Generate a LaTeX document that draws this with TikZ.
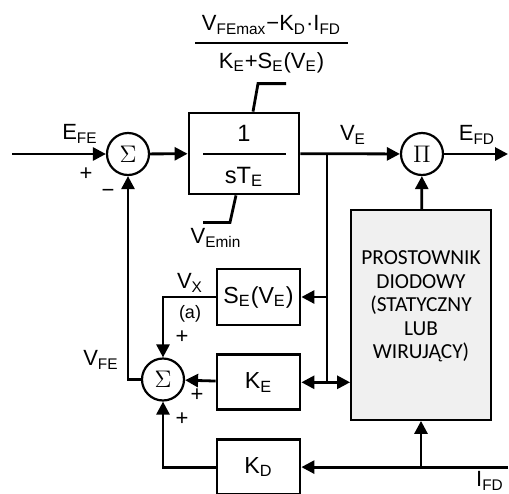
\documentclass[tikz,border=0pt]{standalone}
\usepackage{fontspec}
\setmainfont{Liberation Sans}
\newfontfamily\calfont{Carlito}
\usepackage{tikz}
\usetikzlibrary{arrows.meta,positioning}

\begin{document}
\begin{tikzpicture}[
  x=0.5pt, y=-0.5pt,
  node distance=13.5pt and 13.5pt,
  every node/.style={font=\fontsize{11}{13}\selectfont, inner sep=0pt},
  sumnode/.style={draw, circle, line width=1.1pt, minimum size=21pt,
                  font=\fontsize{12.5}{13}\selectfont},
  blk/.style={draw, line width=1.4pt, minimum width=41.5pt,
              minimum height=27.5pt, font=\fontsize{11.6}{13}\selectfont},
  arr/.style={-{Triangle[length=6.5pt,width=6.5pt]}, line width=1.4pt},
  wire/.style={line width=1.4pt},
  sgn/.style={font=\fontsize{11}{13}\selectfont},
]
\useasboundingbox (0,0) rectangle (509,493);

\node[sumnode] (sumA)  at (128,154) {$\Sigma$};
\node[blk, minimum width=55pt, minimum height=40.5pt] (blkT) at (244,153.5) {};
\node[font=\fontsize{11.8}{13}\selectfont] (one) at (244,133) {1};
\node[font=\fontsize{11.8}{13}\selectfont] (ste) at (244,177) {sT\textsubscript{E}};
\node[sumnode] (prodP) at (422,154) {$\Pi$};

\node[blk, minimum height=28pt] (blkS) at (258.5,297) {S\textsubscript{E}(V\textsubscript{E})};
\node[blk, below=of blkS] (blkKE) {K\textsubscript{E}};
\node[blk, below=of blkKE] (blkKD) {K\textsubscript{D}};
\node[sumnode] (sumB) at (163,379.5) {$\Sigma$};

\node[draw, line width=0.9pt, fill=black!6, minimum width=70pt,
      minimum height=105pt] (rect) at (421,315) {};
\node[align=center, font=\calfont\fontsize{10.7}{11.75}\selectfont]
   (rtxt) at (421,306.5) {PROSTOWNIK\\DIODOWY\\(STATYCZNY\\LUB\\WIRUJĄCY)};

\node (num) at (271.5,25) {V\textsubscript{FEmax}−K\textsubscript{D}·I\textsubscript{FD}};
\node (den) at (271.5,63) {K\textsubscript{E}+S\textsubscript{E}(V\textsubscript{E})};

\coordinate (in)  at (12,154);
\coordinate (out) at (508,154);
\coordinate (br)  at (327,154);
\coordinate (ifd) at (blkKD -| out);
\coordinate (tap) at (rect.south |- ifd);

\draw[wire] (195,43) -- (348,43);
\draw[wire] (203,154) -- (286,154);
\draw[wire] ([xshift=4.5pt]blkT.north) -- ++(5,-28) -- ++(28,0);
\draw[wire] ([xshift=-4pt]blkT.south) -- ++(-6,27) -- ++(-27,0);

\draw[arr] (in) -- (sumA);
\draw[arr] (sumA) -- (blkT);
\draw[arr] (blkT) -- (prodP);
\draw[arr] (prodP) -- (out);
\draw[arr] (rect) -- (prodP);
\draw[wire] (br) -- (br |- blkKE);
\draw[arr] (br |- blkS) -- (blkS);
\draw[arr] (br |- blkKE) -- (blkKE);
\draw[arr] (br |- blkKE) -- (rect.west |- blkKE);
\draw[arr] (blkS.west) -| (sumB.north);
\draw[arr] (blkKE) -- (sumB);
\draw[arr] (blkKD.west) -| (sumB.south);
\draw[arr] (sumB.west) -| (sumA.south);
\draw[arr] (ifd) -- (blkKD);
\draw[arr] (tap) -- (rect.south);

\node (lefe)  at (80,134)  {E\textsubscript{FE}};
\node (lvemin) at (216,238) {V\textsubscript{Emin}};
\node (lve)   at (353,135) {V\textsubscript{E}};
\node (lefd)  at (477,135) {E\textsubscript{FD}};
\node (lvx)   at (190,283) {V\textsubscript{X}};
\node[font=\fontsize{9}{10}\selectfont] (la) at (190,314) {(a)};
\node (lvfe)  at (101,360) {V\textsubscript{FE}};
\node (lifd)  at (490,481) {I\textsubscript{FD}};

\node[sgn] (s1) at (86,174)  {+};
\node[sgn] (s2) at (108,193) {−};
\node[sgn] (s3) at (182,337) {+};
\node[sgn] (s4) at (197,395) {+};
\node[sgn] (s5) at (182,419) {+};
\end{tikzpicture}
\end{document}
